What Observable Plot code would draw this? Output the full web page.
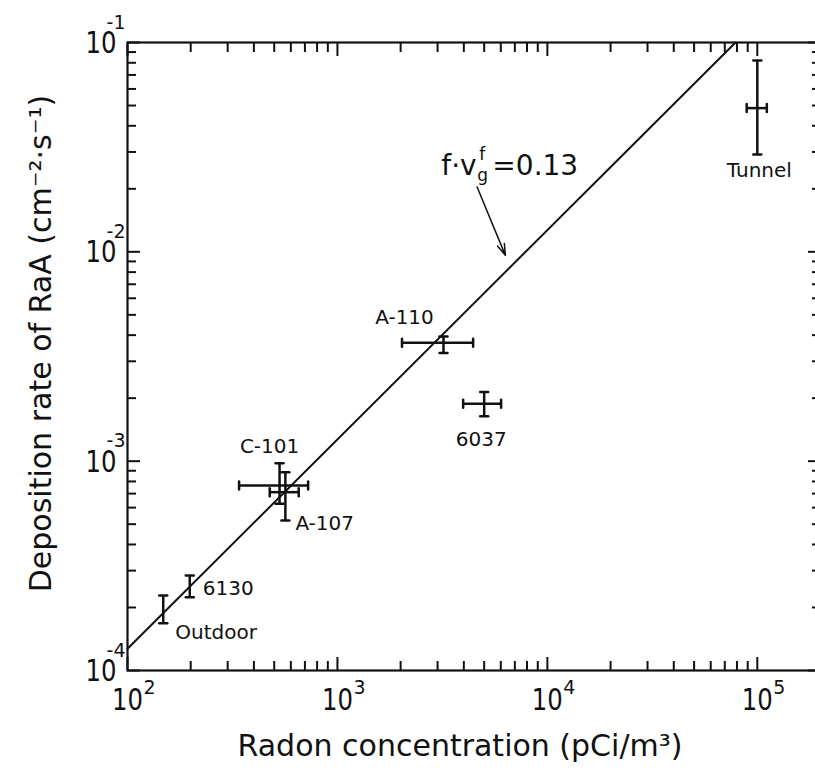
<!DOCTYPE html>
<html>
<head>
<meta charset="utf-8">
<script src="https://cdn.jsdelivr.net/npm/d3@7"></script>
<script src="https://cdn.jsdelivr.net/npm/@observablehq/plot@0.6"></script>
<style>
  html, body { margin: 0; padding: 0; background: #fff; }
  #chart svg { display: block; }
</style>
</head>
<body>
<div id="chart"></div>
<script>
// Measured sites: radon concentration (pCi/m³) and RaA deposition rate (cm⁻²·s⁻¹)
const sites   = ["Outdoor", "6130", "C-101", "A-107", "A-110", "6037", "Tunnel"];
const radon   = [148, 198, 530, 565, 3200, 5000, 100000];
const radonLo = [null, null, 340, 476, 2030, 3970, 89000];
const radonHi = [null, null, 725, 654, 4430, 6020, 111000];
const dep     = [1.95e-4, 2.52e-4, 7.66e-4, 7.11e-4, 3.68e-3, 1.88e-3, 4.86e-2];
const depLo   = [1.68e-4, 2.24e-4, 6.26e-4, 5.21e-4, 3.29e-3, 1.64e-3, 2.92e-2];
const depHi   = [2.28e-4, 2.84e-4, 9.78e-4, 8.86e-4, 3.94e-3, 2.14e-3, 8.20e-2];

// Deposition model: rate = f·v_g · N(RaA), with f·v_g in cm/s
const fvg = 0.13;
const raaHalfLife = 3.05 * 60;                 // s, ²¹⁸Po
const pCi = 0.037;                             // decays per second
const atomsPerPCiM3 = pCi / (Math.LN2 / raaHalfLife) * 1e-6; // atoms/cm³ per pCi/m³

// Axis decades and labels
const xDecades = [1e2, 1e3, 1e4, 1e5];
const xExponents = ["2", "3", "4", "5"];
const yDecades = [1e-4, 1e-3, 1e-2, 1e-1];
const yExponents = ["-4", "-3", "-2", "-1"];
const xDomain = [100, 2e5];
const yDomain = [1e-4, 1e-1];

const xTitle = "Radon concentration (pCi/m³)";
const yTitle = "Deposition rate of RaA (cm⁻²·s⁻¹)";

// Annotation for the fitted line (anchor and arrow in data units)
const annotAt = {x: 3126, y: 0.0232};
const annotArrow = {x1: 4627, y1: 0.0204, x2: 6310, y2: 0.00962};

// ---------------------------------------------------------------
const points = sites.map((site, i) => ({
  site, radon: radon[i], radonLo: radonLo[i], radonHi: radonHi[i],
  dep: dep[i], depLo: depLo[i], depHi: depHi[i]
}));
const withX = points.filter(d => d.radonLo != null);

const minorTicks = (decades, max) =>
  decades.flatMap(d => [2, 3, 4, 5, 6, 7, 8, 9].map(m => m * d)).filter(v => v < max);
const xMinor = minorTicks(xDecades, xDomain[1]);
const yMinor = minorTicks(yDecades, yDomain[1]);

const k = fvg * atomsPerPCiM3;
const fitLine = [xDomain[0], yDomain[1] / k].map(c => ({c, d: k * c}));

const ink = "#111";
const font = "DejaVu Sans";

const labelLayout = {
  "Outdoor": {dx: 12, dy: 29, textAnchor: "start"},
  "6130":    {dx: 13, dy: 9, textAnchor: "start"},
  "C-101":   {dx: -10, dy: -32, textAnchor: "middle"},
  "A-107":   {dx: 10, dy: 38, textAnchor: "start"},
  "A-110":   {dx: -39, dy: -19, textAnchor: "middle"},
  "6037":    {dx: -3, dy: 42, textAnchor: "middle"},
  "Tunnel":  {dx: 2, dy: 69, textAnchor: "middle"}
};

const capShape = {draw(context, l) { context.moveTo(0, 0); context.lineTo(0, -l); }};

const tickAxes = [];
for (const [vals, len] of [[xDecades, 13], [xMinor, 9]]) {
  tickAxes.push(Plot.axisX(vals, {anchor: "bottom", tickSize: len, dy: -len, fill: "none", stroke: ink, strokeWidth: 2, label: null}));
  tickAxes.push(Plot.axisX(vals, {anchor: "top", tickSize: len, dy: len, fill: "none", stroke: ink, strokeWidth: 2, label: null}));
}
for (const [vals, len] of [[yDecades, 13], [yMinor, 9]]) {
  tickAxes.push(Plot.axisY(vals, {anchor: "left", tickSize: len, dx: len, fill: "none", stroke: ink, strokeWidth: 2, label: null}));
  tickAxes.push(Plot.axisY(vals, {anchor: "right", tickSize: len, dx: -len, fill: "none", stroke: ink, strokeWidth: 2, label: null}));
}

const chart = Plot.plot({
  width: 815,
  height: 768,
  marginLeft: 127,
  marginRight: -5,
  marginTop: 42,
  marginBottom: 98,
  style: {fontFamily: font, color: ink, background: "#fff"},
  x: {type: "log", domain: xDomain},
  y: {type: "log", domain: yDomain},
  marks: [
    ...tickAxes,
    Plot.frame({stroke: ink, strokeWidth: 2.2}),

    // decade labels: "10" with a raised exponent
    Plot.text(xDecades, {x: d => d, frameAnchor: "bottom", text: () => "10", fontSize: 30, textAnchor: "middle", lineAnchor: "top", dy: 18, fill: ink, ariaDescription: "decade-base"}),
    Plot.text(xDecades, {x: d => d, frameAnchor: "bottom", text: (d, i) => xExponents[i], fontSize: 19, textAnchor: "start", lineAnchor: "top", dx: 16, dy: 10, fill: ink}),
    Plot.text(yDecades, {y: d => d, frameAnchor: "left", text: () => "10", fontSize: 30, textAnchor: "end", lineAnchor: "middle", dx: -11, dy: 1, fill: ink, ariaDescription: "decade-base"}),
    Plot.text(yDecades, {y: d => d, frameAnchor: "left", text: (d, i) => yExponents[i], fontSize: 19, textAnchor: "end", lineAnchor: "middle", dx: -2, dy: -20, fill: ink}),

    // axis titles
    Plot.text([xTitle], {frameAnchor: "bottom", text: d => d, fontSize: 30, textAnchor: "middle", lineAnchor: "bottom", dx: -14, dy: 85, fill: ink}),
    Plot.text([yTitle], {frameAnchor: "left", text: d => d, fontSize: 30, rotate: -90, textAnchor: "middle", lineAnchor: "bottom", dx: -77, dy: -13, fill: ink}),

    // fitted relation
    Plot.line(fitLine, {x: "c", y: "d", stroke: ink, strokeWidth: 2}),

    // error bars
    Plot.ruleX(points, {x: "radon", y1: "depLo", y2: "depHi", stroke: ink, strokeWidth: 2.5}),
    Plot.ruleY(withX, {y: "dep", x1: "radonLo", x2: "radonHi", stroke: ink, strokeWidth: 2.5}),
    Plot.vector(points.flatMap(d => [{x: d.radon, y: d.depLo}, {x: d.radon, y: d.depHi}]),
      {x: "x", y: "y", rotate: 90, length: 8, anchor: "middle", shape: capShape, stroke: ink, strokeWidth: 2.5}),
    Plot.vector(withX.flatMap(d => [{x: d.radonLo, y: d.dep}, {x: d.radonHi, y: d.dep}]),
      {x: "x", y: "y", rotate: 0, length: 8, anchor: "middle", shape: capShape, stroke: ink, strokeWidth: 2.5}),

    // site labels
    ...sites.map(s => Plot.text(points.filter(p => p.site === s), {
      x: "radon", y: "dep", text: "site", fontSize: 20, lineAnchor: "bottom", fill: ink, ...labelLayout[s]
    })),

    // annotation f·v_g^f = 0.13
    Plot.text([annotAt], {x: "x", y: "y", text: () => "f·v", fontSize: 28, textAnchor: "start", lineAnchor: "bottom", fill: ink}),
    Plot.text([annotAt], {x: "x", y: "y", text: () => "f", fontSize: 17, textAnchor: "start", lineAnchor: "bottom", dx: 38, dy: -15, fill: ink}),
    Plot.text([annotAt], {x: "x", y: "y", text: () => "g", fontSize: 17, textAnchor: "start", lineAnchor: "bottom", dx: 36, dy: 6, fill: ink}),
    Plot.text([annotAt], {x: "x", y: "y", text: () => "=" + fvg.toFixed(2), fontSize: 28, textAnchor: "start", lineAnchor: "bottom", dx: 51, fill: ink}),
    Plot.arrow([annotArrow], {x1: "x1", y1: "y1", x2: "x2", y2: "y2", stroke: ink, strokeWidth: 1.5, headLength: 12, headAngle: 35})
  ]
});

// the plotter lettering of the decade bases is narrow
d3.select(chart).selectAll('[aria-description="decade-base"] text')
  .attr("textLength", 31)
  .attr("lengthAdjust", "spacingAndGlyphs");

document.getElementById("chart").appendChild(chart);
</script>
</body>
</html>
